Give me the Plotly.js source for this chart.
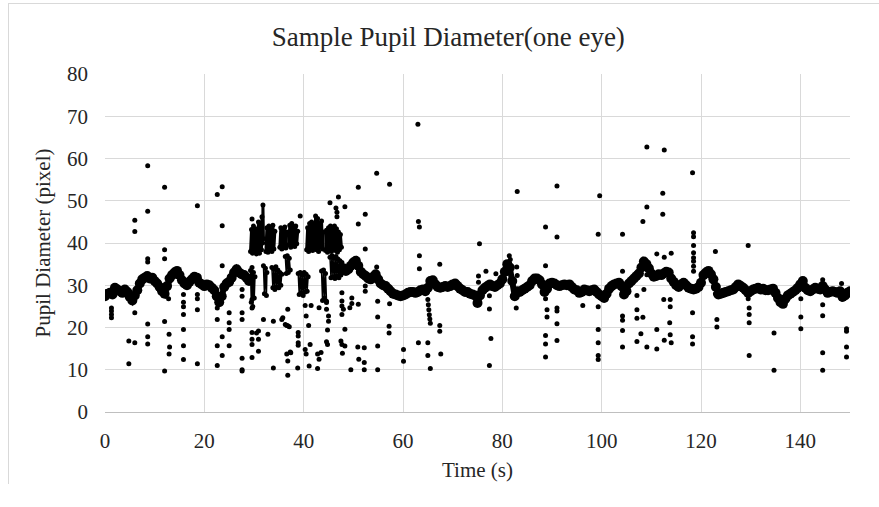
<!DOCTYPE html>
<html>
<head>
<meta charset="utf-8">
<script src="https://cdn.plot.ly/plotly-3.0.1.min.js"></script>
<style>
html,body{margin:0;padding:0;background:#fff;}
#wrap{position:relative;width:879px;height:507px;overflow:hidden;}
#chart{position:absolute;left:0;top:0;width:879px;height:507px;}
#frame{position:absolute;left:8px;top:3px;width:900px;height:480px;border-left:1px solid #d9d9d9;border-top:1px solid #d9d9d9;pointer-events:none;}
</style>
</head>
<body>
<div id="wrap"><div id="chart"></div><div id="frame"></div></div>
<script>
// ---- data (time in s, pupil diameter in pixels) ----
const chartTitle = "Sample Pupil Diameter(one eye)";
const xTitle = "Time (s)";
const yTitle = "Pupil Diameter (pixel)";
const xTicks = [0, 20, 40, 60, 80, 100, 120, 140];
const yTicks = [0, 10, 20, 30, 40, 50, 60, 70, 80];

// main (dense) trace, before the burst
const bandEarly = [
 [0,27.4],[0.5,28.0],[1,28.2],[1.5,27.8],[2,29.4],[2.5,29.0],[3,28.6],[3.5,28.2],[4,29.0],[4.5,28.4],
 [5,27.2],[5.5,26.4],[6,27.6],[6.5,28.8],[7,30.4],[7.5,31.4],[8,31.8],[8.5,32.2],[9,31.6],[9.5,31.8],
 [10,31.0],[10.5,30.4],[11,29.6],[11.5,28.6],[12,28.0],[12.5,29.8],[13,31.6],[13.5,32.4],[14,33.0],[14.5,33.4],
 [15,32.4],[15.5,31.2],[16,30.4],[16.5,30.0],[17,30.8],[17.5,31.4],[18,32.0],[18.5,31.8],[19,30.6],[19.5,30.2],
 [20,29.8],[20.5,30.2],[21,30.0],[21.5,29.4],[22,28.8],[22.5,27.4],[23,26.0],[23.5,27.4],[24,29.6],[24.5,30.4],
 [25,30.8],[25.5,31.8],[26,33.0],[26.5,33.8],[27,33.0],[27.5,32.6],[28,32.4],[28.5,31.8],[29,31.0]
];

// main (dense) trace, after the burst
const bandLate = [
 [48,34.0],[48.5,33.4],[49,33.8],[49.5,34.6],[50,35.4],[50.5,35.8],[51,34.6],[51.5,33.2],[52,32.6],[52.5,32.2],
 [53,31.6],[53.5,31.4],[54,32.0],[54.5,32.6],[55,31.4],[55.5,30.4],[56,30.0],[56.5,29.8],[57,29.2],[57.5,28.6],
 [58,28.0],[58.5,27.8],[59,27.6],[59.5,27.4],[60,27.6],[60.5,27.8],[61,28.2],[61.5,28.4],[62,28.4],[62.5,28.2],
 [63,28.4],[63.5,28.8],[64,29.0],[64.5,28.6],[65,29.4],[65.5,31.0],[66,31.2],[66.5,30.2],[67,29.6],[67.5,29.4],
 [68,29.6],[68.5,29.8],[69,29.6],[69.5,29.8],[70,30.2],[70.5,30.4],[71,29.8],[71.5,29.2],[72,28.8],[72.5,28.4],
 [73,28.4],[73.5,28.0],[74,27.8],[74.5,27.6],[75,25.8],[75.5,27.6],[76,28.8],[76.5,29.4],[77,29.8],[77.5,30.2],
 [78,29.8],[78.5,29.6],[79,30.0],[79.5,30.4],[80,31.4],[80.5,33.2],[81,35.0],[81.5,34.2],[82,31.0],[82.5,27.4],
 [83,28.6],[83.5,28.4],[84,28.8],[84.5,29.2],[85,29.6],[85.5,30.0],[86,31.0],[86.5,31.6],[87,31.6],[87.5,31.2],
 [88,30.2],[88.5,28.4],[89,29.2],[89.5,30.4],[90,30.6],[90.5,30.4],[91,30.0],[91.5,29.8],[92,30.0],[92.5,30.2],
 [93,30.0],[93.5,30.2],[94,29.6],[94.5,29.0],[95,28.8],[95.5,28.2],[96,28.4],[96.5,29.0],[97,28.8],[97.5,28.6],
 [98,28.8],[98.5,29.0],[99,28.4],[99.5,27.8],[100,27.4],[100.5,27.0],[101,28.0],[101.5,29.2],[102,29.8],[102.5,30.2],
 [103,30.4],[103.5,30.6],[104,29.8],[104.5,27.8],[105,28.6],[105.5,30.4],[106,31.0],[106.5,31.6],[107,32.2],[107.5,32.8],
 [108,34.2],[108.5,35.6],[109,35.0],[109.5,34.0],[110,32.8],[110.5,32.0],[111,32.2],[111.5,32.6],[112,32.4],[112.5,32.8],
 [113,33.2],[113.5,33.0],[114,31.6],[114.5,30.8],[115,30.0],[115.5,29.6],[116,30.2],[116.5,30.6],[117,30.0],[117.5,29.4],
 [118,29.2],[118.5,29.0],[119,29.2],[119.5,29.6],[120,30.6],[120.5,32.4],[121,33.0],[121.5,33.4],[122,32.6],[122.5,31.4],
 [123,29.6],[123.5,27.8],[124,28.0],[124.5,28.2],[125,28.4],[125.5,28.6],[126,28.8],[126.5,29.0],[127,29.6],[127.5,30.2],
 [128,29.8],[128.5,29.4],[129,28.8],[129.5,28.2],[130,28.6],[130.5,29.0],[131,29.2],[131.5,29.4],[132,29.0],[132.5,29.2],
 [133,28.8],[133.5,28.8],[134,29.0],[134.5,29.2],[135,28.2],[135.5,27.0],[136,26.0],[136.5,25.6],[137,26.8],[137.5,27.6],
 [138,28.0],[138.5,28.4],[139,28.8],[139.5,29.4],[140,30.2],[140.5,31.0],[141,29.4],[141.5,28.8],[142,28.6],[142.5,29.0],
 [143,29.4],[143.5,29.2],[144,29.0],[144.5,29.8],[145,29.0],[145.5,28.2],[146,28.4],[146.5,28.6],[147,28.4],[147.5,28.2],
 [148,28.6],[148.5,27.2],[149,27.6],[149.5,28.2],[150,28.6]
];

// 29-48 s: rapidly alternating samples in the upper columns, null = break
const burstUpper = [
 [29.3,38],[29.5,43.2],[29.7,37.6],[29.9,44],[30.1,38.2],[30.3,43.4],[30.5,37.4],null,
 [30.7,38],[30.9,45],[31.1,37.6],[31.3,44.6],[31.5,38.4],[31.6,46.2],[31.75,40],[31.8,49],[31.9,41],null,
 [32.4,38],[32.6,43.6],[32.8,37.8],[33.0,44],[33.2,38.4],[33.4,43.2],[33.6,38],[33.8,44.2],[34.0,38.6],[34.2,42.8],null,
 [35.2,39],[35.4,43.6],[35.6,38.6],[35.8,43],[36.0,39.2],[36.2,43.8],[36.4,38.8],[36.6,42.6],null,
 [37.0,39.6],[37.2,44.2],[37.4,39],[37.6,44.6],[37.8,39.4],[38.0,43.8],[38.2,39.2],[38.4,44],[38.6,39.8],[38.8,42.8],null,
 [40.6,38.4],[40.8,43.6],[41.0,38],[41.2,44.6],[41.4,38.6],[41.6,45],[41.8,38.2],[42.0,44.4],[42.2,38.8],[42.4,46.4],
 [42.6,38.4],[42.8,45.8],[43.0,38],[43.2,44.6],[43.4,39],[43.6,45.2],[43.8,38.6],[44.0,42.6],null,
 [44.4,38.2],[44.6,43],[44.8,37.8],[45.0,43.6],[45.2,38.4],[45.4,44],[45.6,38],[45.8,43.2],[46.0,38.6],[46.2,44],
 [46.4,38.2],[46.6,43.4],[46.8,37.8],[47.0,42.6],[47.2,38.4],[47.4,42],[47.6,39]
];

// 29-48 s: the lower columns (continuation of the main trace), null = break
const burstLower = [
 [29.3,33.5],[29.45,26],[29.6,34.2],[29.75,25],[29.9,33],[30.05,27],[30.2,32],null,
 [31.9,34.6],[32.1,28],[32.3,34],[32.5,27.6],[32.6,33],null,
 [33.6,34.2],[33.8,29.4],[34.0,33.8],[34.2,29],[34.4,34.4],[34.6,29.6],[34.8,33.6],[35.0,29.4],[35.2,33],[35.4,30],[35.6,32.6],null,
 [36.3,36.8],[36.5,32.8],[36.7,37],[36.9,33],[37.1,36.4],[37.3,33.6],null,
 [38.9,32.8],[39.1,27.8],[39.3,33],[39.5,28.2],[39.7,32.4],[39.9,27.6],[40.1,33],[40.3,28.4],[40.5,32.6],[40.7,28.6],[40.9,32],null,
 [43.6,33.4],[43.8,26.4],[44.0,33.6],[44.2,27],[44.4,32.8],[44.6,26.2],null,
 [45.3,36.6],[45.5,31.8],[45.7,37],[45.9,32],[46.1,36.4],[46.3,31.6],[46.5,36.8],[46.7,32.2],[46.9,36.2],[47.1,31.8],
 [47.3,35.8],[47.5,32.4],[47.7,35.4],[48.0,34.0]
];

// isolated samples away from the main trace
const outliers = [
 [1.3,24.6],[1.3,23.9],[1.3,23.1],[1.3,22.3],[4.8,16.8],[4.8,11.4],[6,45.4],[6,42.7],[6,23.5],[6,16.4],
 [8.6,58.3],[8.6,47.5],[8.6,36.3],[8.6,35.5],[8.6,20.8],[8.6,17.8],[8.6,16.1],
 [12,53.2],[12,38.4],[12,36.3],[12,21.4],[12,9.7],[12.8,26.8],[12.9,18.4],[13,15.4],[12.9,13.7],
 [15.8,27.8],[15.8,26],[15.8,24.9],[15.8,23.1],[15.8,19.5],[15.8,15.7],[15.8,12.4],
 [18.6,48.8],[18.6,27.8],[18.6,26.8],[18.6,24.2],[18.6,11.4],
 [22.6,51.5],[23.6,53.3],[23.6,44.1],[23.6,34.6],[22.6,24.6],[22.6,21.9],[22.6,15.7],[22.6,11],[23.6,17.8],[23.6,13.4],
 [25,23.5],[25,21.1],[25,19.5],[25,15.7],
 [27.6,29],[27.6,27.4],[27.6,23.5],[27.6,21.9],[27.6,12.7],[27.6,10],[27.6,9.7],
 [29.6,45.7],[29.6,26.6],[29.6,24.6],[29.6,18.8],[29.6,17.2],[29.6,16],[29.6,12.9],
 [30.5,18.7],[30.9,19.2],[30.9,17.2],[30.9,14.4],[31.9,21.9],[32.8,18.4],[33.9,21.5],[33.9,10.4],
 [35.6,21.9],[35.8,22.3],[36.3,20.7],[36.6,20.5],[36.8,20.4],[37.1,20.2],[36.8,24.3],
 [36.6,13.7],[36.8,12.1],[37.3,14.2],[36.8,8.7],[37.4,14],
 [38.8,10.4],[38.9,18.8],[38.9,18],[38.9,16.4],[38.9,15.8],[39.3,46.4],
 [40.3,25.2],[40.5,22.7],[41,20.5],[41.5,25.2],[41.3,16],[40.3,14.8],[40.5,13.7],[41.1,10.9],
 [43.1,24.7],[42.8,13.7],[43.1,12.5],[42.8,10.3],[43.5,14.1],
 [44.6,25.9],[44.6,24.3],[45,22.7],[45,21.5],[44.8,19.4],[44.6,16.6],[44.8,16],
 [45.3,49.5],[47,50.9],[46.5,48.3],[46.7,47.3],[46.7,46.2],[48.3,48.6],
 [47.7,28.2],[47.7,26.3],[47.7,25.1],[48,24.3],[47.7,23.1],[48.3,19.6],[47.5,16.8],[47.7,16],[48.3,15.6],[47.8,13.9],
 [49.5,10],[49.7,27],[49.7,25.7],[49.3,24.7],[51,25.5],[50.9,15.4],[51.1,12.5],[52.2,15.2],[52.2,11.7],[52.2,10],
 [51,44.5],[51,53.2],[52.4,46.8],[52.4,38.6],[52.4,29.8],[52.4,28.6],
 [54.7,56.5],[54.7,34.3],[54.9,26.2],[54.9,22.5],[54.9,15.6],[54.9,10],
 [57.3,53.9],[57.3,25.6],[57.2,20.3],[57.2,18.7],[60.1,14.8],[60.1,12],
 [63,68.1],[63.1,45.1],[63.3,43.8],[63.3,37],[63.3,33.9],[63.1,16.4],
 [65,26.6],[65.1,25.4],[65.2,24.2],[65.3,23],[65.4,22],[65.5,21],[65,16.4],[65,13.4],[65.5,10.3],
 [67.4,35],[67.4,20.5],[67.4,19.1],[67.6,13.7],
 [75.4,39.8],[75.2,32.2],[75.2,30.7],[76.7,33.3],[77.4,27.5],[77.4,24.4],[77.7,17.4],[77.4,11],
 [78.7,32.7],[81.4,37],[81.6,36.1],[82.9,34.3],[83,32.3],[82.8,24.6],[83,52.2],
 [88.7,43.8],[88.7,34.6],[88.7,26.8],[89,24.2],[89,22.5],[88.7,18.1],[88.7,16.1],[88.7,13],
 [91,53.5],[91,41.4],[91,24.6],[91,23.9],[91,20.9],[91,16.9],[96.2,25.2],
 [99.6,51.2],[99.3,42.1],[99.3,24.9],[99.3,19.5],[99.3,16.4],[99.3,13.4],[99.3,12.4],
 [104.2,42.1],[104.2,33.3],[104.2,22.7],[104.2,21.7],[104.2,19.3],[104.2,15.4],
 [107.1,27.6],[107.1,24.2],[107.1,22.2],[107.1,16.7],[108.3,22.4],[107.9,18.5],
 [108.3,45.1],[109.1,48.5],[109.1,62.7],[109.1,15.4],[108.5,29],[109.1,32.5],
 [111.1,37.4],[111.1,19.5],[111.1,14.9],
 [112.6,62],[112.3,51.8],[112.3,46.8],[112.6,36.6],[112.5,26.6],[112.6,17],
 [113.8,26.6],[113.8,24.9],[113.7,21.1],[113.8,18.3],[114,16.4],[114,37.6],
 [118.3,56.6],[118.5,42.4],[118.5,41.5],[118.5,39.4],[118.5,37.7],[118.5,36.5],[118.5,35.7],[118.5,34.5],[118.5,33.3],
 [118.3,23.5],[118.3,17.8],[118.3,16.1],
 [122.9,38],[122.9,28],[123.2,21.9],[123.2,20.1],
 [129.5,39.4],[129.5,26.8],[129.7,24.6],[129.7,23.1],[129.7,21.1],[129.7,13.4],
 [134.7,18.7],[134.7,9.9],[140.1,26.8],[140.1,22.5],[140.1,19.7],
 [144.5,31.3],[144.5,25.4],[144.5,22.8],[144.5,14],[144.5,9.9],
 [148.3,30.4],[149.3,19.7],[149.3,19.1],[149.3,15.4],[149.3,13]
];

// ---- drawing ----
const xs = a => a.map(p => p === null ? null : p[0]);
const ys = a => a.map(p => p === null ? null : p[1]);
const serif = "'Liberation Serif', 'Times New Roman', serif";
const ink = "#000000";
const txt = "#262626";

function trace(data, lineW, mSize) {
 return {x: xs(data), y: ys(data), type: "scatter",
  mode: lineW > 0 ? "lines+markers" : "markers", connectgaps: false,
  line: {color: ink, width: lineW}, marker: {color: ink, size: mSize},
  hoverinfo: "skip", showlegend: false};
}

const traces = [
 trace(bandEarly, 6, 10),
 trace(bandLate, 6, 10),
 trace(burstUpper, 3, 5),
 trace(burstLower, 1.5, 5),
 trace(outliers, 0, 5)
];

const layout = {
 width: 879, height: 507,
 paper_bgcolor: "#ffffff", plot_bgcolor: "#ffffff",
 margin: {l: 105, r: 29, t: 74, b: 95, pad: 0},
 font: {family: serif, color: txt, size: 21},
 title: {text: chartTitle, font: {family: serif, size: 27, color: txt},
         x: 0.51, xref: "container", xanchor: "center", y: 0.928, yref: "container", yanchor: "middle"},
 xaxis: {range: [0, 150], tickvals: xTicks, ticktext: xTicks.map(String), ticks: "",
         showgrid: true, gridcolor: "#d9d9d9", gridwidth: 1, zeroline: false,
         showline: true, linecolor: "#bfbfbf", linewidth: 1,
         tickfont: {family: serif, size: 21, color: txt}, ticklabelstandoff: 10,
         title: {text: xTitle, font: {family: serif, size: 21, color: txt}, standoff: 10}},
 yaxis: {range: [0, 80], tickvals: yTicks, ticktext: yTicks.map(String), ticks: "",
         showgrid: true, gridcolor: "#d9d9d9", gridwidth: 1, zeroline: false, showline: false,
         tickfont: {family: serif, size: 21, color: txt}, ticklabelstandoff: 16,
         title: {text: yTitle, font: {family: serif, size: 21, color: txt}, standoff: 10}},
 showlegend: false
};

Plotly.newPlot("chart", traces, layout, {staticPlot: true, displayModeBar: false});
</script>
</body>
</html>
